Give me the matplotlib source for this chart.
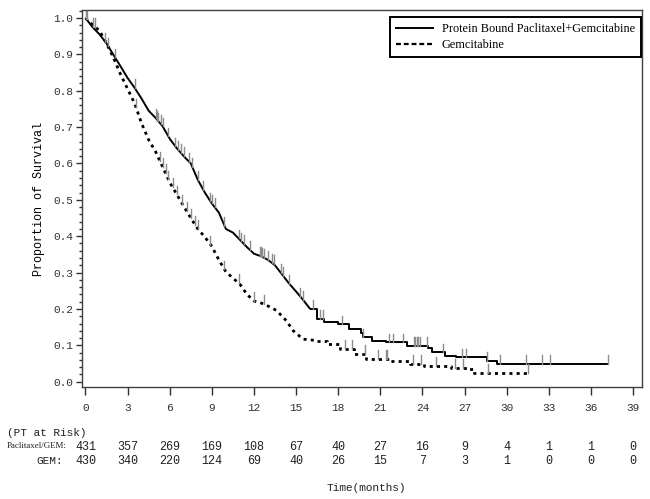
import numpy as np
import matplotlib
matplotlib.use("Agg")
import matplotlib.pyplot as plt
from matplotlib.lines import Line2D
from matplotlib.ticker import MultipleLocator
import matplotlib.transforms as mtransforms

# ---- data ----
nab_t = [0, 0.5, 1.0, 1.5, 2.0, 2.5, 3.0, 3.5, 4.0, 4.5, 5.0, 5.5, 6.0, 6.5, 7.0, 7.5,
         8.0, 8.5, 9.0, 9.5, 10.0, 10.5, 11.0, 11.5, 12.0, 12.5, 13.0, 13.5, 14.0, 14.5,
         15.0, 15.5, 16.0, 16.5, 17.0, 18.0, 18.8, 19.6, 19.8, 20.4, 21.4, 22.9, 24.4,
         24.7, 25.6, 26.4, 28.6, 29.3, 37.2]
nab_s = [1.0, 0.975, 0.955, 0.93, 0.898, 0.867, 0.835, 0.808, 0.778, 0.745, 0.725, 0.702,
         0.668, 0.642, 0.620, 0.600, 0.555, 0.520, 0.490, 0.465, 0.420, 0.410, 0.390, 0.370,
         0.352, 0.345, 0.335, 0.320, 0.295, 0.270, 0.248, 0.225, 0.200, 0.173, 0.165, 0.158,
         0.145, 0.135, 0.122, 0.113, 0.108, 0.099, 0.094, 0.081, 0.072, 0.067, 0.058, 0.049,
         0.049]
gem_t = [0, 0.5, 1.0, 1.5, 2.0, 2.5, 3.0, 3.5, 4.0, 4.5, 5.0, 5.5, 6.0, 6.5, 7.0, 7.5,
         8.0, 8.5, 9.0, 9.5, 10.0, 10.5, 11.0, 11.5, 12.0, 12.7, 13.6, 14.3, 14.8, 15.5,
         16.5, 17.2, 18.1, 19.1, 20.0, 21.7, 23.1, 24.1, 26.0, 27.2, 27.7, 31.5]
gem_s = [1.0, 0.982, 0.965, 0.93, 0.89, 0.845, 0.805, 0.765, 0.71, 0.665, 0.632, 0.59,
         0.548, 0.515, 0.482, 0.45, 0.42, 0.398, 0.372, 0.335, 0.302, 0.285, 0.268, 0.24,
         0.222, 0.214, 0.196, 0.168, 0.14, 0.117, 0.113, 0.104, 0.09, 0.076, 0.062, 0.058,
         0.049, 0.044, 0.039, 0.035, 0.024, 0.024]

nab_cens = [0.05, 0.5, 1.4, 2.1, 3.5, 5.0, 5.1, 5.2, 5.35, 5.5, 5.9, 6.4, 6.6, 6.8, 7.0,
            7.4, 7.6, 8.0, 8.4, 8.9, 9.0, 9.2, 9.9, 10.9, 11.1, 11.3, 11.7, 12.4, 12.5,
            12.6, 12.7, 13.0, 13.3, 13.4, 13.9, 14.1, 14.5, 15.3, 15.5, 16.2, 16.7, 16.9,
            18.3, 19.8, 21.6, 21.9, 22.6, 23.4, 23.5, 23.6, 23.7, 23.8, 24.3, 25.5, 26.8,
            27.1, 28.6, 29.5, 31.4, 32.5, 33.1, 37.2]
gem_cens = [0.1, 0.7, 1.6, 3.6, 5.3, 5.5, 5.7, 5.9, 6.2, 6.5, 6.9, 7.2, 7.5, 7.8, 8.0,
            8.9, 9.9, 10.9, 12.0, 12.7, 18.5, 19.0, 19.9, 20.8, 21.4, 21.5, 23.3, 23.9,
            25.0, 26.3, 26.9, 28.7, 31.5]

risk_times = [0, 3, 6, 9, 12, 15, 18, 21, 24, 27, 30, 33, 36, 39]
risk_nab = [431, 357, 269, 169, 108, 67, 40, 27, 16, 9, 4, 1, 1, 0]
risk_gem = [430, 340, 220, 124, 69, 40, 26, 15, 7, 3, 1, 0, 0, 0]

label_nab = "Protein Bound Paclitaxel+Gemcitabine"
label_gem = "Gemcitabine"

MONO = "Liberation Mono"
SERIF = "Liberation Serif"

fig = plt.figure(figsize=(6.5, 4.99), dpi=100)
W, H = 650.0, 499.0
ax = fig.add_axes([81.7 / W, 1 - 387.3 / H, (642 - 81.7) / W, (387.3 - 10) / H])


def surv_at(ts, ss, t):
    ts = np.asarray(ts); ss = np.asarray(ss)
    i = np.searchsorted(ts, t, side="right") - 1
    i = np.clip(i, 0, len(ss) - 1)
    # linear within the dense part, step in the tail
    if t < ts[-1] and i + 1 < len(ts) and ts[i + 1] <= 16.0:
        f = (t - ts[i]) / (ts[i + 1] - ts[i])
        return ss[i] + f * (ss[i + 1] - ss[i])
    return ss[i]


def draw_curve(ts, ss, split, **kw):
    ts = np.asarray(ts); ss = np.asarray(ss)
    k = np.searchsorted(ts, split)
    ax.plot(ts[:k + 1], ss[:k + 1], **kw)
    ax.plot(ts[k:], ss[k:], drawstyle="steps-post", **kw)


draw_curve(nab_t, nab_s, 16.0, color="black", lw=1.4, solid_capstyle="butt")
draw_curve(gem_t, gem_s, 16.0, color="black", lw=2.0, linestyle=(0, (1.1, 1.5)))

tick_h = 0.024
for c in nab_cens:
    s = surv_at(nab_t, nab_s, c)
    ax.plot([c, c], [s, s + tick_h], color="#8c8c8c", lw=1.0)
for c in gem_cens:
    s = surv_at(gem_t, gem_s, c)
    ax.plot([c, c], [s, s + tick_h], color="#8c8c8c", lw=1.0)

ax.set_xlim(-0.27, 39.64)
ax.set_ylim(-0.0154, 1.022)
ax.set_xticks(risk_times)
ax.set_yticks(np.arange(0, 1.01, 0.1))
ax.yaxis.set_minor_locator(MultipleLocator(0.02))
ax.set_yticklabels([f"{v:.1f}" for v in np.arange(0, 1.01, 0.1)])
ax.tick_params(axis="x", which="major", direction="out", length=5.5, width=1.0,
               pad=6, labelsize=8, colors="#303030")
ax.tick_params(axis="y", which="major", direction="out", length=4, width=1.0,
               pad=2, labelsize=8, colors="#303030")
ax.tick_params(axis="y", which="minor", direction="out", length=2, width=1.0,
               colors="#303030")
for lab in ax.get_xticklabels() + ax.get_yticklabels():
    lab.set_fontfamily(MONO)
for sp in ax.spines.values():
    sp.set_color("#404040")
    sp.set_linewidth(1.0)

ax.set_ylabel("Proportion of Survival", fontfamily=MONO, fontsize=8.5, labelpad=6)

handles = [Line2D([], [], color="black", lw=1.4),
           Line2D([], [], color="black", lw=1.6, linestyle=(0, (2.2, 1.3)))]
leg = ax.legend(handles, [label_nab, label_gem], loc="upper right",
                bbox_to_anchor=(0.998, 0.981), borderaxespad=0,
                prop={"family": SERIF, "size": 8.8}, fancybox=False,
                edgecolor="black", framealpha=1, handlelength=3.0,
                handletextpad=0.7, labelspacing=0.3, borderpad=0.5)
leg.get_frame().set_linewidth(1.4)

# risk table
blend = mtransforms.blended_transform_factory(ax.transData, fig.transFigure)
fig.text(6.7 / W, 1 - 433 / H, "(PT at Risk)", fontfamily=MONO, fontsize=8,
         va="center", ha="left", color="#202020")
fig.text(6.7 / W, 1 - 445.5 / H, "Paclitaxel/GEM:", fontfamily=SERIF, fontsize=6.4,
         va="center", ha="left", color="#202020")
fig.text(63 / W, 1 - 461 / H, "GEM:", fontfamily=MONO, fontsize=8,
         va="center", ha="right", color="#202020")
for t, a, b in zip(risk_times, risk_nab, risk_gem):
    ax.text(t, 1 - 446.5 / H, str(a), transform=blend, ha="center", va="center",
            fontfamily=MONO, fontsize=8.5, color="#202020", clip_on=False)
    ax.text(t, 1 - 461 / H, str(b), transform=blend, ha="center", va="center",
            fontfamily=MONO, fontsize=8.5, color="#202020", clip_on=False)

fig.text(366 / W, 1 - 488 / H, "Time(months)", fontfamily=MONO, fontsize=8,
         ha="center", va="center", color="#202020")

fig.savefig("out.png", dpi=100)
